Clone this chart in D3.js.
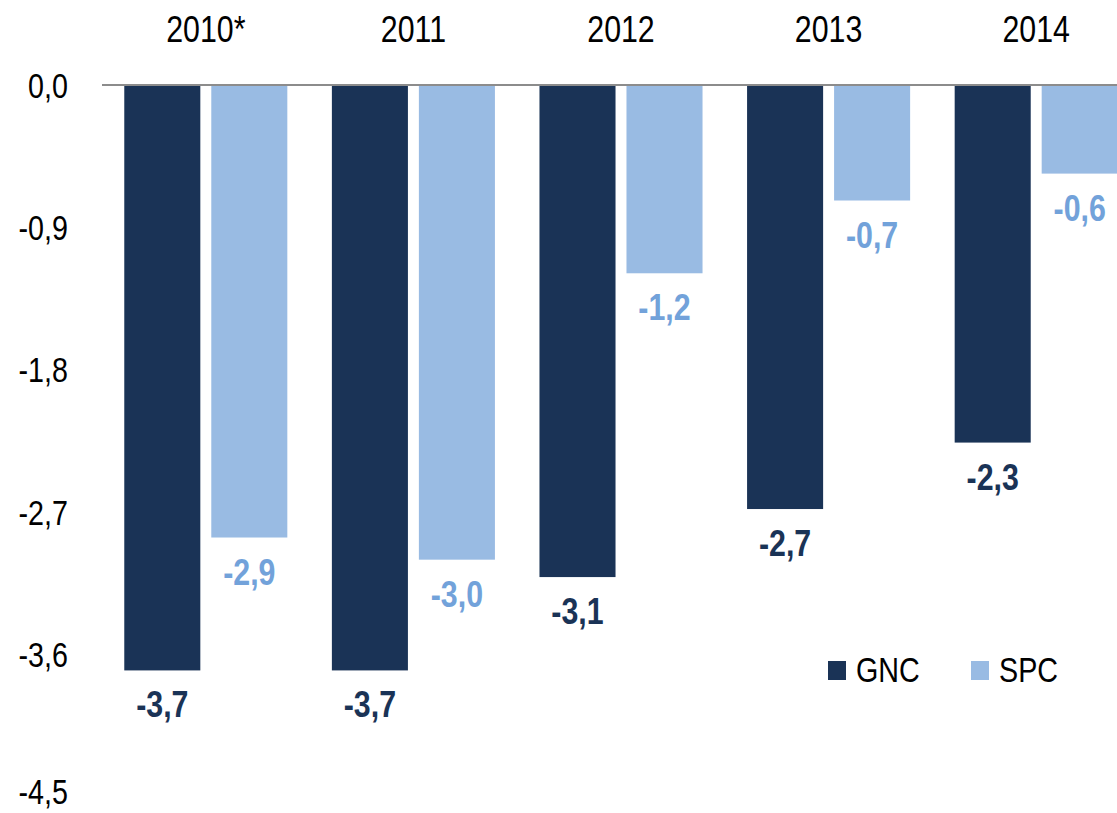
<!DOCTYPE html>
<html>
<head>
<meta charset="utf-8">
<script src="https://cdn.jsdelivr.net/npm/d3@7"></script>
<style>
  body { margin: 0; background: #fff; }
  svg text { font-family: "Liberation Sans", Arial, sans-serif; }
</style>
</head>
<body>
<svg id="chart"></svg>
<script>
// data
const years = ["2010*", "2011", "2012", "2013", "2014"];
const seriesNames = ["GNC", "SPC"];
const gnc = [-3.7, -3.7, -3.11, -2.68, -2.26];
const spc = [-2.86, -3.0, -1.19, -0.73, -0.56];
const yTicks = [0, -0.9, -1.8, -2.7, -3.6, -4.5];

const colors = { GNC: "#1a3356", SPC: "#99bbe3" };
const labelColors = { GNC: "#1a3356", SPC: "#72a2da" };

const width = 1117, height = 813;
const margin = { top: 85, right: -23, bottom: 16, left: 102 };
// the original uses a narrow face, squeeze Liberation Sans to match
const narrow = 0.82;

const svg = d3.select("#chart")
    .attr("width", width)
    .attr("height", height);

const rows = years.map((y, i) => ({ year: y, GNC: gnc[i], SPC: spc[i] }));

const x0 = d3.scaleBand()
    .domain(years)
    .range([margin.left, width - margin.right])
    .padding(0);

const x1 = d3.scaleBand()
    .domain(seriesNames)
    .range([0, x0.bandwidth()])
    .paddingInner(0.126)
    .paddingOuter(0.256);

const y = d3.scaleLinear()
    .domain([0, -4.5])
    .range([margin.top, height - margin.bottom]);

const fmt = v => d3.format(".1f")(v).replace(".", ",").replace("−", "-");
const at = (px, py) => `translate(${px},${py}) scale(${narrow},1)`;

// y tick labels (no axis line); bottom one pulled up so the comma fits
svg.append("g")
    .selectAll("text")
    .data(yTicks)
    .join("text")
    .attr("transform", d => at(68, Math.min(y(d), 791)))
    .attr("dy", "0.36em")
    .attr("text-anchor", "end")
    .attr("font-size", 35)
    .attr("fill", "#000")
    .text(d => fmt(d));

// year labels on top
svg.append("g")
    .selectAll("text")
    .data(years)
    .join("text")
    .attr("transform", d => at(x0(d) + x0.bandwidth() / 2, 42))
    .attr("text-anchor", "middle")
    .attr("font-size", 37)
    .attr("fill", "#000")
    .text(d => d);

// bars
const groups = svg.append("g")
    .selectAll("g")
    .data(rows)
    .join("g")
    .attr("transform", d => `translate(${x0(d.year)},0)`);

groups.selectAll("rect")
    .data(d => seriesNames.map(k => ({ key: k, value: d[k] })))
    .join("rect")
    .attr("x", d => x1(d.key))
    .attr("y", y(0))
    .attr("width", x1.bandwidth())
    .attr("height", d => y(d.value) - y(0))
    .attr("fill", d => colors[d.key]);

groups.selectAll("text")
    .data(d => seriesNames.map(k => ({ key: k, value: d[k] })))
    .join("text")
    .attr("transform", d => at(x1(d.key) + x1.bandwidth() / 2, y(d.value) + 47))
    .attr("text-anchor", "middle")
    .attr("font-size", 37)
    .attr("font-weight", "bold")
    .attr("fill", d => labelColors[d.key])
    .text(d => fmt(d.value));

// zero line
svg.append("line")
    .attr("x1", margin.left)
    .attr("x2", width)
    .attr("y1", y(0))
    .attr("y2", y(0))
    .attr("stroke", "#8c8c8c")
    .attr("stroke-width", 2);

// legend
const legend = svg.append("g")
    .selectAll("g")
    .data(seriesNames)
    .join("g")
    .attr("transform", (d, i) => `translate(${828 + i * 143},661)`);

legend.append("rect")
    .attr("width", 18)
    .attr("height", 19)
    .attr("fill", d => colors[d]);

legend.append("text")
    .attr("transform", at(28, 21))
    .attr("font-size", 35)
    .attr("fill", "#000")
    .text(d => d);
</script>
</body>
</html>
